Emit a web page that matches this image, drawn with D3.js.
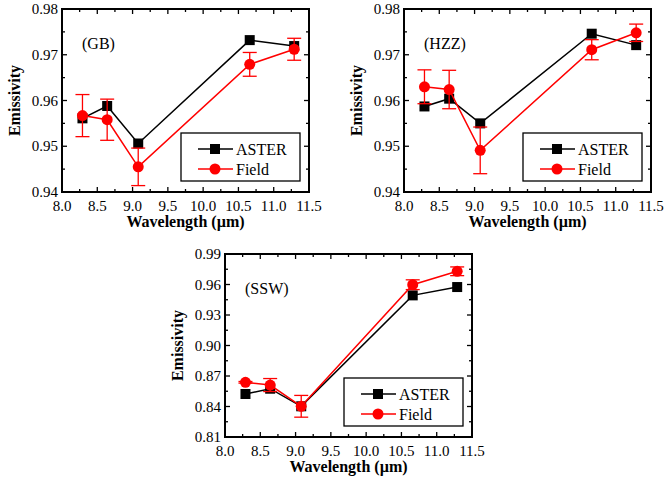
<!DOCTYPE html>
<html>
<head>
<meta charset="utf-8">
<script src="https://cdn.jsdelivr.net/npm/d3@7"></script>
<style>
  body { margin: 0; background: #fff; }
  svg { display: block; }
</style>
</head>
<body>
<svg id="chart" width="665" height="480" font-family="'Liberation Serif', 'Times New Roman', Times, 'DejaVu Serif', serif"></svg>
<script>
// band centres (um)
var wavelengths = [8.29, 8.64, 9.08, 10.66, 11.29];

// GB site
var gbAster = [0.9561, 0.9588, 0.9506, 0.9732, 0.9719];
var gbField = [0.9567, 0.9558, 0.9455, 0.9679, 0.9712];
var gbErr = [0.0046, 0.0045, 0.0041, 0.0026, 0.0024];

// HZZ site
var hzzAster = [0.9587, 0.9604, 0.9550, 0.9746, 0.9721];
var hzzField = [0.9630, 0.9624, 0.9491, 0.9711, 0.9748];
var hzzErr = [0.0037, 0.0042, 0.0051, 0.0022, 0.0019];

// SSW site
var sswAster = [0.8523, 0.8575, 0.8402, 0.9493, 0.9575];
var sswField = [0.8638, 0.8611, 0.8402, 0.9598, 0.9730];
var sswErr = [0.0008, 0.0064, 0.0107, 0.0048, 0.0043];

var xTicks = [8.0, 8.5, 9.0, 9.5, 10.0, 10.5, 11.0, 11.5];
var gbTicks = [0.94, 0.95, 0.96, 0.97, 0.98];
var sswTicks = [0.81, 0.84, 0.87, 0.90, 0.93, 0.96, 0.99];

var panels = [
  { label: '(GB)', left: 62, top: 9, aster: gbAster, field: gbField, err: gbErr,
    yDomain: [0.94, 0.98], yTicks: gbTicks, yMinor: 0.005 },
  { label: '(HZZ)', left: 404, top: 9, aster: hzzAster, field: hzzField, err: hzzErr,
    yDomain: [0.94, 0.98], yTicks: gbTicks, yMinor: 0.005 },
  { label: '(SSW)', left: 225, top: 254, aster: sswAster, field: sswField, err: sswErr,
    yDomain: [0.81, 0.99], yTicks: sswTicks, yMinor: 0.015 }
];

var W = 247, H = 183;
var svg = d3.select('#chart');

function drawPanel(p) {
  var g = svg.append('g').attr('transform', 'translate(' + p.left + ',' + p.top + ')');
  var x = d3.scaleLinear().domain([8.0, 11.5]).range([0, W]);
  var y = d3.scaleLinear().domain(p.yDomain).range([H, 0]);

  var xMinor = d3.range(8.0, 11.5001, 0.25);
  var yMinor = d3.range(p.yDomain[0], p.yDomain[1] + 1e-9, p.yMinor);

  // ticks, pointing in, on all four sides
  var tk = g.append('g').attr('stroke', '#000').attr('stroke-width', 1.3);
  xMinor.forEach(function (v, i) {
    var len = i % 2 === 0 ? 5 : 3;
    tk.append('line').attr('x1', x(v)).attr('x2', x(v)).attr('y1', H).attr('y2', H - len);
    tk.append('line').attr('x1', x(v)).attr('x2', x(v)).attr('y1', 0).attr('y2', len);
  });
  yMinor.forEach(function (v, i) {
    var len = i % 2 === 0 ? 5 : 3;
    tk.append('line').attr('x1', 0).attr('x2', len).attr('y1', y(v)).attr('y2', y(v));
    tk.append('line').attr('x1', W).attr('x2', W - len).attr('y1', y(v)).attr('y2', y(v));
  });

  g.append('rect').attr('width', W).attr('height', H)
    .attr('fill', 'none').attr('stroke', '#000').attr('stroke-width', 2);

  // tick labels
  g.selectAll('.xl').data(xTicks).enter().append('text')
    .attr('x', function (d) { return x(d); }).attr('y', H + 19)
    .attr('text-anchor', 'middle').attr('font-size', 15)
    .text(function (d) { return d.toFixed(1); });
  g.selectAll('.yl').data(p.yTicks).enter().append('text')
    .attr('x', -4).attr('y', function (d) { return y(d) + 5; })
    .attr('text-anchor', 'end').attr('font-size', 15)
    .text(function (d) { return d.toFixed(2); });

  // axis titles
  g.append('text').attr('x', W / 2).attr('y', H + 35)
    .attr('text-anchor', 'middle').attr('font-size', 16).attr('font-weight', 'bold')
    .text('Wavelength (\u00b5m)');
  g.append('text').attr('transform', 'translate(-42,' + (H / 2) + ') rotate(-90)')
    .attr('text-anchor', 'middle').attr('font-size', 16).attr('font-weight', 'bold')
    .text('Emissivity');

  g.append('text').attr('x', 20).attr('y', 40).attr('font-size', 16).text(p.label);

  var line = d3.line().x(function (d) { return x(d[0]); }).y(function (d) { return y(d[1]); });
  var astPts = wavelengths.map(function (w, i) { return [w, p.aster[i]]; });
  var fldPts = wavelengths.map(function (w, i) { return [w, p.field[i], p.err[i]]; });

  g.append('path').datum(astPts).attr('d', line)
    .attr('fill', 'none').attr('stroke', '#000').attr('stroke-width', 1.5);
  g.selectAll('.sq').data(astPts).enter().append('rect')
    .attr('x', function (d) { return x(d[0]) - 5; }).attr('y', function (d) { return y(d[1]) - 5; })
    .attr('width', 10).attr('height', 10).attr('fill', '#000');

  g.append('path').datum(fldPts).attr('d', line)
    .attr('fill', 'none').attr('stroke', '#ff0000').attr('stroke-width', 1.5);
  var eb = g.selectAll('.eb').data(fldPts).enter().append('g')
    .attr('stroke', '#ff0000').attr('stroke-width', 1.3);
  eb.append('line')
    .attr('x1', function (d) { return x(d[0]); }).attr('x2', function (d) { return x(d[0]); })
    .attr('y1', function (d) { return y(d[1] - d[2]); }).attr('y2', function (d) { return y(d[1] + d[2]); });
  [-1, 1].forEach(function (s) {
    eb.append('line')
      .attr('x1', function (d) { return x(d[0]) - 7; }).attr('x2', function (d) { return x(d[0]) + 7; })
      .attr('y1', function (d) { return y(d[1] + s * d[2]); }).attr('y2', function (d) { return y(d[1] + s * d[2]); });
  });
  g.selectAll('.ci').data(fldPts).enter().append('circle')
    .attr('cx', function (d) { return x(d[0]); }).attr('cy', function (d) { return y(d[1]); })
    .attr('r', 5.5).attr('fill', '#ff0000');

  // legend
  var lg = g.append('g').attr('transform', 'translate(' + (W - 128) + ',124)');
  lg.append('rect').attr('width', 119).attr('height', 48)
    .attr('fill', '#fff').attr('stroke', '#000').attr('stroke-width', 1.3);
  var a = lg.append('g').attr('transform', 'translate(0,16)');
  a.append('line').attr('x1', 17).attr('x2', 52).attr('stroke', '#000').attr('stroke-width', 1.5);
  a.append('rect').attr('x', 29).attr('y', -5).attr('width', 10).attr('height', 10).attr('fill', '#000');
  a.append('text').attr('x', 55).attr('y', 6).attr('font-size', 16).text('ASTER');
  var f = lg.append('g').attr('transform', 'translate(0,36)');
  f.append('line').attr('x1', 17).attr('x2', 52).attr('stroke', '#ff0000').attr('stroke-width', 1.5);
  f.append('circle').attr('cx', 34).attr('r', 5.5).attr('fill', '#ff0000');
  f.append('text').attr('x', 55).attr('y', 6).attr('font-size', 16).text('Field');
}

panels.forEach(drawPanel);
</script>
</body>
</html>
